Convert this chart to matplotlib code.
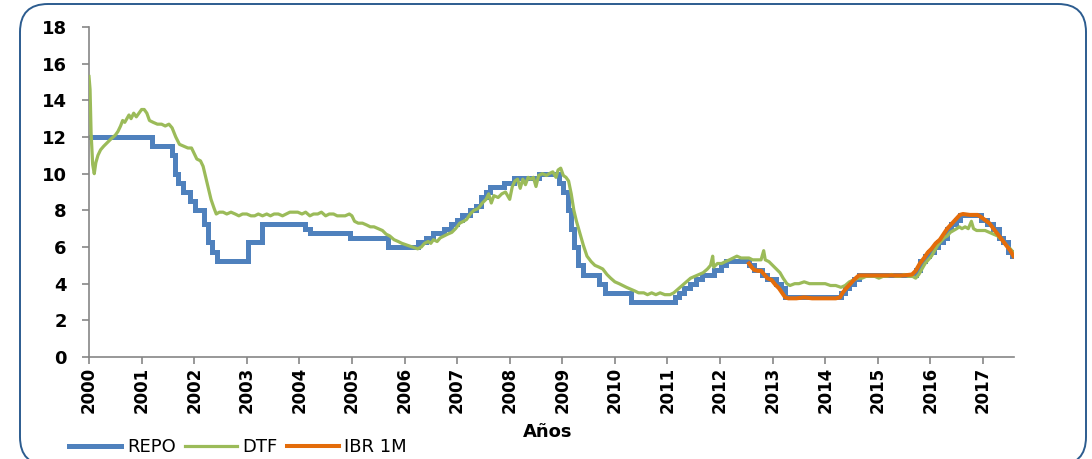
import matplotlib
matplotlib.use("Agg")
import matplotlib.pyplot as plt
from matplotlib.lines import Line2D
from matplotlib.patches import FancyBboxPatch
import numpy as np

# ---------------------------------------------------------------------------
# Data (decimal years, rates in %)
# ---------------------------------------------------------------------------
years = list(range(2000, 2018))
x_end = 2017.59

# REPO: policy-rate steps (start of step, level)
repo_t = [2000.00, 2001.20, 2001.58, 2001.64, 2001.70, 2001.78, 2001.92, 2002.02,
          2002.19, 2002.26, 2002.34, 2002.43, 2003.02, 2003.29, 2004.11, 2004.20,
          2004.96, 2005.68, 2006.25, 2006.40, 2006.55, 2006.75, 2006.88, 2007.00,
          2007.10, 2007.25, 2007.35, 2007.45, 2007.55, 2007.62, 2007.90, 2008.08,
          2008.55, 2008.93, 2009.02, 2009.10, 2009.16, 2009.23, 2009.30, 2009.40,
          2009.70, 2009.82, 2010.30, 2011.14, 2011.22, 2011.32, 2011.42, 2011.55,
          2011.65, 2011.88, 2012.02, 2012.12, 2012.55, 2012.65, 2012.80, 2012.90,
          2013.07, 2013.15, 2013.23, 2014.30, 2014.38, 2014.46, 2014.55, 2014.64,
          2015.72, 2015.80, 2015.90, 2015.98, 2016.07, 2016.15, 2016.24, 2016.32,
          2016.40, 2016.48, 2016.57, 2016.97, 2017.07, 2017.20, 2017.30, 2017.39,
          2017.47, 2017.55, x_end]
repo_v = [12.0, 11.5, 11.0, 10.0, 9.5, 9.0, 8.5, 8.0,
          7.25, 6.25, 5.75, 5.25, 6.25, 7.25, 7.0, 6.75,
          6.5, 6.0, 6.25, 6.5, 6.75, 7.0, 7.25, 7.5,
          7.75, 8.0, 8.25, 8.75, 9.0, 9.25, 9.5, 9.75,
          10.0, 9.5, 9.0, 8.0, 7.0, 6.0, 5.0, 4.5,
          4.0, 3.5, 3.0, 3.25, 3.5, 3.75, 4.0, 4.25,
          4.5, 4.75, 5.0, 5.25, 5.0, 4.75, 4.5, 4.25,
          4.0, 3.75, 3.25, 3.5, 3.75, 4.0, 4.25, 4.5,
          4.75, 5.25, 5.5, 5.75, 6.0, 6.25, 6.5, 7.0,
          7.25, 7.5, 7.75, 7.5, 7.25, 7.0, 6.5, 6.25,
          5.75, 5.5, 5.5]

# DTF
dtf_t = [2000.00, 2000.02, 2000.04, 2000.07, 2000.10, 2000.13, 2000.17, 2000.22, 2000.28, 2000.35,
         2000.42, 2000.50, 2000.55, 2000.60, 2000.64, 2000.68, 2000.72, 2000.76, 2000.80, 2000.85,
         2000.90, 2000.95, 2001.00, 2001.05, 2001.10, 2001.15, 2001.22, 2001.30, 2001.38, 2001.45,
         2001.52, 2001.58, 2001.65, 2001.72, 2001.80, 2001.88, 2001.95, 2002.00, 2002.05, 2002.12,
         2002.17, 2002.22, 2002.27, 2002.32, 2002.38, 2002.42, 2002.48, 2002.55, 2002.62, 2002.70,
         2002.78, 2002.85, 2002.92, 2003.00, 2003.08, 2003.15, 2003.22, 2003.30, 2003.38, 2003.45,
         2003.52, 2003.60, 2003.68, 2003.75, 2003.82, 2003.90, 2003.97, 2004.05, 2004.12, 2004.20,
         2004.27, 2004.35, 2004.42, 2004.50, 2004.57, 2004.65, 2004.72, 2004.80, 2004.87, 2004.95,
         2005.00, 2005.05, 2005.12, 2005.20, 2005.28, 2005.35, 2005.42, 2005.50, 2005.58, 2005.65,
         2005.72, 2005.80, 2005.88, 2005.95, 2006.05, 2006.15, 2006.25, 2006.32, 2006.38, 2006.45,
         2006.50, 2006.55, 2006.62, 2006.68, 2006.75, 2006.82, 2006.90, 2006.97, 2007.05, 2007.12,
         2007.18, 2007.25, 2007.32, 2007.40, 2007.48, 2007.55, 2007.60, 2007.65, 2007.70, 2007.78,
         2007.85, 2007.92, 2008.00, 2008.05, 2008.10, 2008.15, 2008.20, 2008.25, 2008.30, 2008.35,
         2008.40, 2008.45, 2008.50, 2008.55, 2008.62, 2008.70, 2008.75, 2008.82, 2008.88, 2008.92,
         2008.97, 2009.02, 2009.07, 2009.12, 2009.17, 2009.22, 2009.27, 2009.33, 2009.40, 2009.47,
         2009.55, 2009.62, 2009.70, 2009.77, 2009.85, 2009.92, 2010.00, 2010.08, 2010.15, 2010.22,
         2010.30, 2010.38, 2010.45, 2010.55, 2010.62, 2010.70, 2010.78, 2010.86, 2010.95, 2011.05,
         2011.12, 2011.20, 2011.28, 2011.36, 2011.44, 2011.52, 2011.60, 2011.68, 2011.76, 2011.82,
         2011.86, 2011.88, 2011.95, 2012.03, 2012.10, 2012.18, 2012.25, 2012.32, 2012.40, 2012.48,
         2012.55, 2012.62, 2012.70, 2012.78, 2012.83, 2012.86, 2012.93, 2013.00, 2013.07, 2013.14,
         2013.20, 2013.27, 2013.33, 2013.42, 2013.50, 2013.60, 2013.70, 2013.80, 2013.90, 2014.00,
         2014.10, 2014.20, 2014.30, 2014.38, 2014.46, 2014.54, 2014.62, 2014.70, 2014.78, 2014.86,
         2014.94, 2015.02, 2015.10, 2015.18, 2015.26, 2015.34, 2015.42, 2015.50, 2015.58, 2015.66,
         2015.72, 2015.78, 2015.84, 2015.90, 2015.96, 2016.02, 2016.08, 2016.14, 2016.20, 2016.26,
         2016.32, 2016.38, 2016.44, 2016.50, 2016.55, 2016.60, 2016.66, 2016.72, 2016.78, 2016.82,
         2016.88, 2016.96, 2017.04, 2017.12, 2017.20, 2017.28, 2017.36, 2017.44, 2017.52, 2017.58]
dtf_v = [15.3, 14.6, 12.2, 10.5, 10.0, 10.6, 11.0, 11.3, 11.5, 11.7,
         11.9, 12.1, 12.3, 12.6, 12.9, 12.8, 13.0, 13.2, 13.0, 13.3,
         13.1, 13.3, 13.5, 13.5, 13.3, 12.9, 12.8, 12.7, 12.7, 12.6,
         12.7, 12.5, 12.0, 11.6, 11.5, 11.4, 11.4, 11.1, 10.8, 10.7,
         10.4, 9.8, 9.2, 8.6, 8.1, 7.8, 7.9, 7.9, 7.8, 7.9,
         7.8, 7.7, 7.8, 7.8, 7.7, 7.7, 7.8, 7.7, 7.8, 7.7,
         7.8, 7.8, 7.7, 7.8, 7.9, 7.9, 7.9, 7.8, 7.9, 7.7,
         7.8, 7.8, 7.9, 7.7, 7.8, 7.8, 7.7, 7.7, 7.7, 7.8,
         7.7, 7.4, 7.3, 7.3, 7.2, 7.1, 7.1, 7.0, 6.9, 6.7,
         6.6, 6.4, 6.3, 6.2, 6.1, 6.0, 5.9, 6.0, 6.2, 6.3,
         6.2, 6.4, 6.3, 6.5, 6.6, 6.7, 6.8, 7.0, 7.3, 7.4,
         7.5, 7.8, 8.0, 8.1, 8.4, 8.6, 8.9, 8.4, 8.8, 8.7,
         8.9, 9.0, 8.6, 9.3, 9.6, 9.7, 9.2, 9.7, 9.4, 9.8,
         9.7, 9.8, 9.3, 9.9, 10.0, 9.9, 10.0, 10.1, 9.8, 10.2,
         10.3, 9.9, 9.8, 9.6, 8.9, 8.0, 7.4, 6.8, 6.1, 5.5,
         5.2, 5.0, 4.9, 4.8, 4.5, 4.3, 4.1, 4.0, 3.9, 3.8,
         3.7, 3.6, 3.5, 3.5, 3.4, 3.5, 3.4, 3.5, 3.4, 3.4,
         3.5, 3.7, 3.9, 4.1, 4.3, 4.4, 4.5, 4.6, 4.8, 5.0,
         5.5, 4.9, 5.1, 5.1, 5.2, 5.3, 5.4, 5.5, 5.4, 5.4,
         5.4, 5.3, 5.3, 5.3, 5.8, 5.3, 5.2, 5.0, 4.8, 4.6,
         4.3, 4.0, 3.9, 4.0, 4.0, 4.1, 4.0, 4.0, 4.0, 4.0,
         3.9, 3.9, 3.8, 3.9, 4.1, 4.2, 4.3, 4.3, 4.4, 4.4,
         4.4, 4.3, 4.4, 4.4, 4.5, 4.4, 4.4, 4.5, 4.4, 4.4,
         4.3, 4.5, 4.8, 5.1, 5.3, 5.5, 5.8, 6.1, 6.3, 6.5,
         6.6, 6.8, 6.9, 7.0, 7.1, 7.0, 7.1, 7.0, 7.4, 7.0,
         6.9, 6.9, 6.9, 6.8, 6.7, 6.6, 6.4, 6.1, 5.9, 5.7]

# IBR 1M
ibr_t = [2012.55, 2012.60, 2012.65, 2012.72, 2012.78, 2012.84, 2012.90, 2012.98, 2013.05, 2013.12,
         2013.18, 2013.24, 2013.30, 2013.45, 2013.60, 2013.75, 2013.90, 2014.05, 2014.20, 2014.28,
         2014.33, 2014.40, 2014.48, 2014.56, 2014.64, 2014.75, 2014.90, 2015.10, 2015.30, 2015.50,
         2015.65, 2015.72, 2015.80, 2015.88, 2015.95, 2016.02, 2016.10, 2016.18, 2016.25, 2016.32,
         2016.40, 2016.48, 2016.56, 2016.62, 2016.75, 2016.90, 2016.98, 2017.05, 2017.12, 2017.20,
         2017.28, 2017.36, 2017.44, 2017.52, 2017.58]
ibr_v = [5.1, 4.9, 4.75, 4.7, 4.7, 4.5, 4.3, 4.2, 3.95, 3.75,
         3.5, 3.25, 3.2, 3.2, 3.25, 3.2, 3.2, 3.2, 3.2, 3.25,
         3.5, 3.75, 4.0, 4.25, 4.45, 4.45, 4.45, 4.45, 4.45, 4.45,
         4.5, 4.7, 5.1, 5.4, 5.7, 5.9, 6.2, 6.4, 6.7, 7.0,
         7.25, 7.5, 7.75, 7.8, 7.75, 7.75, 7.6, 7.45, 7.3, 7.0,
         6.7, 6.4, 6.1, 5.8, 5.5]

series_labels = ["REPO", "DTF", "IBR 1M"]
colors = ["#4F81BD", "#9BBB59", "#E46C0A"]
AXIS_GRAY = "#868686"

# ---------------------------------------------------------------------------
# Figure
# ---------------------------------------------------------------------------
W, H = 1092, 459
fig = plt.figure(figsize=(W / 100, H / 100), dpi=100)
ax = fig.add_axes([89 / W, 1 - 357 / H, (1014 - 89) / W, (357 - 27) / H])

ax.plot(repo_t, repo_v, drawstyle="steps-post", color=colors[0], lw=3.6,
        solid_joinstyle="miter", zorder=2)
ax.plot(dtf_t, dtf_v, color=colors[1], lw=2.3, zorder=3)
ax.plot(ibr_t, ibr_v, color=colors[2], lw=2.9, zorder=4)

ax.set_xlim(2000, x_end)
ax.set_ylim(0, 18)
ax.set_yticks(range(0, 19, 2))
ax.set_xticks(years)
ax.set_xticklabels([str(y) for y in years], rotation=90, fontweight="bold", fontsize=12)
for lab in ax.get_yticklabels():
    lab.set_fontweight("bold")
    lab.set_fontsize(13)

for side in ("top", "right"):
    ax.spines[side].set_visible(False)
for side in ("left", "bottom"):
    ax.spines[side].set_color(AXIS_GRAY)
    ax.spines[side].set_linewidth(1.2)
ax.tick_params(axis="y", direction="out", length=5, width=1.2, color=AXIS_GRAY, pad=11)
ax.tick_params(axis="x", direction="out", length=5, width=1.2, color=AXIS_GRAY, pad=2)

fig.text(548 / W, 1 - 432 / H, "Años", ha="center", va="center",
         fontweight="bold", fontsize=13)

handles = [Line2D([], [], color=colors[0], lw=3.6),
           Line2D([], [], color=colors[1], lw=2.3),
           Line2D([], [], color=colors[2], lw=2.9)]
fig.legend(handles, series_labels, ncol=3, loc="center left",
           bbox_to_anchor=(69 / W, 1 - 447 / H), frameon=False, fontsize=13,
           handlelength=2.9, handletextpad=0.3, columnspacing=0.5,
           borderpad=0, borderaxespad=0)

# rounded chart border (drawn in pixel coordinates)
border = FancyBboxPatch((20, -6), 1066, 461, boxstyle="round,pad=0,rounding_size=28",
                        transform=None, fill=False, edgecolor="#2C5C8F", lw=1.4)
fig.patches.append(border)

fig.savefig("out.png", dpi=100)
